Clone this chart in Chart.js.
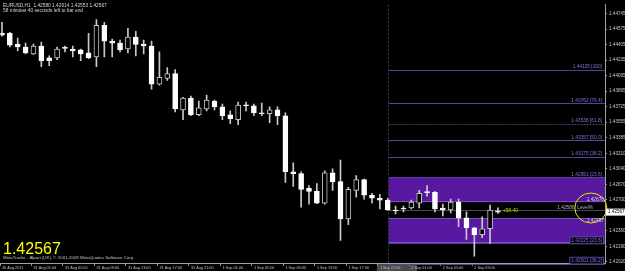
<!DOCTYPE html>
<html>
<head>
<meta charset="utf-8">
<script src="https://cdn.jsdelivr.net/npm/chart.js@4.4.0/dist/chart.umd.min.js"></script>
<style>
  html, body { margin: 0; padding: 0; background: #000; }
  #wrap { width: 625px; height: 271px; }
</style>
</head>
<body>
<div id="wrap"><canvas id="chart" width="625" height="271"></canvas></div>
<script>
// EURUSD H1 bars, oldest first (30 Aug 21:00 .. 2 Sep 12:00)
const openP  = [1.44529,1.44529,1.44410,1.44378,1.44303,1.44389,1.44259,1.44259,1.44367,1.44356,1.44346,1.44313,1.44270,1.44615,1.44443,1.44421,
                1.44356,1.44486,1.44410,1.44389,1.43969,1.44033,1.44087,1.43689,1.43818,1.43635,1.43699,1.43786,1.43721,1.43635,1.43581,1.43742,
                1.43732,1.43656,1.43646,1.43689,1.43624,1.43010,1.42989,1.42827,1.42795,1.42665,1.42999,1.42902,1.42493,1.42805,1.42924,1.42752,
                1.42719,1.42698,1.42590,1.42612,1.42612,1.42665,1.42784,1.42784,1.42612,1.42590,1.42676,1.42504,1.42396,1.42321,1.42385,1.42580];
const highP  = [1.44647,1.44539,1.44475,1.44421,1.44410,1.44432,1.44281,1.44378,1.44389,1.44389,1.44356,1.44529,1.44679,1.44647,1.44464,1.44453,
                1.44583,1.44550,1.44453,1.44443,1.44324,1.44152,1.44130,1.43825,1.43839,1.43786,1.43850,1.43796,1.43753,1.43678,1.43775,1.43775,
                1.43753,1.43764,1.43721,1.43721,1.43656,1.43107,1.43010,1.42859,1.42881,1.43021,1.43042,1.43139,1.42838,1.42967,1.42930,1.42773,
                1.42762,1.42719,1.42633,1.42633,1.42698,1.42805,1.42859,1.42795,1.42655,1.42709,1.42709,1.42569,1.42400,1.42515,1.42644,1.42614];
const lowP   = [1.44496,1.44378,1.44335,1.44303,1.44297,1.44162,1.44173,1.44238,1.44324,1.44270,1.44227,1.44250,1.44162,1.44270,1.44270,1.44324,
                1.44313,1.44281,1.44303,1.43915,1.43960,1.44012,1.43667,1.43581,1.43624,1.43624,1.43678,1.43689,1.43581,1.43538,1.43527,1.43678,
                1.43624,1.43624,1.43549,1.43527,1.42892,1.42849,1.42622,1.42655,1.42660,1.42655,1.42805,1.42256,1.42429,1.42730,1.42709,1.42665,
                1.42601,1.42585,1.42547,1.42569,1.42601,1.42612,1.42741,1.42569,1.42525,1.42558,1.42407,1.42267,1.42084,1.42288,1.42224,1.42553];
const closeP = [1.44507,1.44399,1.44378,1.44313,1.44389,1.44227,1.44227,1.44356,1.44362,1.44335,1.44303,1.44259,1.44615,1.44443,1.44421,1.44346,
                1.44486,1.44405,1.44389,1.43969,1.44044,1.44087,1.43699,1.43818,1.43635,1.43710,1.43796,1.43721,1.43624,1.43592,1.43742,1.43732,
                1.43656,1.43646,1.43689,1.43624,1.43010,1.42989,1.42816,1.42795,1.42665,1.42999,1.42902,1.42493,1.42816,1.42924,1.42752,1.42719,
                1.42698,1.42590,1.42579,1.42601,1.42676,1.42773,1.42780,1.42601,1.42590,1.42676,1.42504,1.42396,1.42321,1.42385,1.42590,1.42567];

// time axis labels (every 4 bars)
const timeTickBars = [0, 4, 8, 12, 16, 20, 24, 28, 32, 36, 40, 44, 48, 52, 56, 60];
const timeTickText = ['30 Aug 2011','31 Aug 01:00','31 Aug 05:00','31 Aug 09:00','31 Aug 13:00','31 Aug 17:00','31 Aug 21:00',
                      '1 Sep 01:00','1 Sep 05:00','1 Sep 09:00','1 Sep 13:00','1 Sep 17:00','1 Sep 21:00','2 Sep 01:00','2 Sep 05:00','2 Sep 09:00'];
const priceTicks = [1.44745,1.44575,1.44405,1.44235,1.44065,1.43895,1.43725,1.43555,1.43385,1.43210,1.43040,1.42870,1.42700,1.42360,1.42190,1.42020];

// fibonacci levels drawn from bar 49
const fibPrices = [1.44125, 1.43762, 1.43538, 1.43357, 1.43175, 1.42951, 1.42225, 1.42001];
const fibNames  = ['100', '76.4', '61.8', '50.0', '38.2', '23.6', '23.6', '38.2'];
const zoneTop   = [1.42951, 1.42500];
const zoneBot   = [1.42676, 1.42225];
const levelPrice = 1.42588;
const lastPrice = 1.42567;
const quoteLine = 'EURUSD,H1  1.42580 1.42614 1.42553 1.42567';

const FONT = "'Liberation Sans', Arial, sans-serif";
const zoneStart = 49;

const bodyLow = [], bodyHigh = [];
const wicks = [], bodies = [], fills = [], edges = [];
for (let i = 0; i < openP.length; i++) {
  wicks.push({ x: i, y: [lowP[i], highP[i]] });
  bodies.push({ x: i, y: [openP[i], closeP[i]] });
  const up = closeP[i] > openP[i];
  fills.push(up ? '#000000' : '#ffffff');
  edges.push(up ? '#c4c4c4' : '#ffffff');
}

const overlay = {
  id: 'overlay',
  beforeDraw(chart) {
    const { ctx, scales: { x } } = chart;
    ctx.save();
    ctx.fillStyle = '#000';
    ctx.fillRect(0, 0, chart.width, chart.height);
    // highlighted time label box
    const bx = x.getPixelForValue(48 - 0.25);
    ctx.fillStyle = '#4a4a4a';
    ctx.fillRect(bx - 1, 264, 40, 7);
    ctx.restore();
  },
  beforeDatasetsDraw(chart) {
    const { ctx, chartArea: a, scales: { x, y } } = chart;
    const x0 = Math.round(x.getPixelForValue(zoneStart)) + 0.5;
    ctx.save();
    // purple zones
    zoneTop.forEach((t, k) => {
      const y1 = y.getPixelForValue(t), y2 = y.getPixelForValue(zoneBot[k]);
      ctx.fillStyle = '#58189f';
      ctx.fillRect(x0, y1, a.right - x0, y2 - y1);
      ctx.strokeStyle = '#7a4cc8';
      ctx.lineWidth = 1;
      ctx.beginPath();
      ctx.moveTo(x0, Math.round(y1) + 0.5); ctx.lineTo(a.right, Math.round(y1) + 0.5);
      ctx.moveTo(x0, Math.round(y2) - 0.5); ctx.lineTo(a.right, Math.round(y2) - 0.5);
      ctx.stroke();
    });
    // fib lines
    fibPrices.forEach((p, k) => {
      const yy = Math.round(y.getPixelForValue(p)) + 0.5;
      ctx.strokeStyle = k === 2 ? '#4a3a70' : '#5a3ea0';
      ctx.setLineDash(k === 2 ? [2, 1] : []);
      ctx.beginPath(); ctx.moveTo(x0, yy); ctx.lineTo(a.right, yy); ctx.stroke();
    });
    ctx.setLineDash([]);
    // level line
    const ly = Math.round(y.getPixelForValue(levelPrice)) + 0.5;
    ctx.strokeStyle = '#4a4a4a';
    ctx.beginPath(); ctx.moveTo(x0, ly); ctx.lineTo(a.right, ly); ctx.stroke();
    // vertical dotted start line
    ctx.strokeStyle = '#3c3c3c';
    ctx.setLineDash([2, 2]);
    ctx.beginPath(); ctx.moveTo(x0, a.top); ctx.lineTo(x0, a.bottom); ctx.stroke();
    ctx.restore();
  },
  afterDraw(chart) {
    const { ctx, chartArea: a, scales: { x, y } } = chart;
    ctx.save();
    // fib labels
    ctx.font = '4.8px ' + FONT;
    ctx.textAlign = 'right';
    ctx.textBaseline = 'bottom';
    fibPrices.forEach((p, k) => {
      const yy = y.getPixelForValue(p);
      const txt = p.toFixed(5) + ' [' + fibNames[k] + ']';
      if (k >= 6) {
        const w = ctx.measureText(txt).width;
        ctx.fillStyle = '#000';
        ctx.fillRect(a.right - 3 - w - 1, yy - 6, w + 2, 6);
        ctx.strokeStyle = '#5a3ea0';
        ctx.strokeRect(a.right - 3 - w - 1.5, yy - 6.5, w + 3, 7);
      }
      ctx.fillStyle = '#8a70d8';
      ctx.fillText(txt, a.right - 3, yy - 0.5);
    });
    // level + zone edge labels
    ctx.fillStyle = '#b0b0c8';
    ctx.fillText('1.42588  Level%', a.right - 12, y.getPixelForValue(levelPrice) - 0.5);
    ctx.fillStyle = '#d0d0e0';
    ctx.fillText(zoneBot[0].toFixed(5), a.right - 1, y.getPixelForValue(zoneBot[0]) - 0.5);
    ctx.fillText('1.42457', a.right - 1, y.getPixelForValue(zoneTop[1]) + 4.5);
    // profit text
    ctx.fillStyle = '#c8c800';
    ctx.textAlign = 'left';
    ctx.textBaseline = 'middle';
    ctx.font = '5px ' + FONT;
    ctx.fillText('+58.40', x.getPixelForValue(63.6), y.getPixelForValue(levelPrice));
    // yellow ellipse
    ctx.strokeStyle = '#e6e600';
    ctx.lineWidth = 1;
    ctx.beginPath();
    ctx.ellipse(x.getPixelForValue(74.8), y.getPixelForValue(1.42612), 16, 15, 0, 0, Math.PI * 2);
    ctx.stroke();
    // current price box on the axis
    const cy = y.getPixelForValue(lastPrice);
    ctx.fillStyle = '#ffffff';
    ctx.fillRect(a.right + 1, cy - 3.5, 20, 7);
    ctx.fillStyle = '#000';
    ctx.font = '4.6px ' + FONT;
    ctx.fillText(lastPrice.toFixed(5), a.right + 3, cy);
    // header texts
    ctx.fillStyle = '#d8d8d8';
    ctx.textBaseline = 'alphabetic';
    ctx.font = '4.8px ' + FONT;
    ctx.fillText(quoteLine, 3, 7);
    ctx.fillText('58 minutes 40 seconds left to bar end', 3, 12);
    // big price + copyright
    ctx.fillStyle = '#ffff00';
    ctx.font = '16px ' + FONT;
    ctx.fillText(lastPrice.toFixed(5), 3, 254);
    ctx.fillStyle = '#c0c0c0';
    ctx.font = '4.4px ' + FONT;
    ctx.fillText('MetaTrader - Alpari (UK), \u00a9 2001-2009 MetaQuotes Software Corp.', 3, 259);
    ctx.restore();
  }
};

new Chart(document.getElementById('chart'), {
  type: 'bar',
  data: {
    datasets: [
      { data: bodies, grouped: false, order: 1, barThickness: 5, minBarLength: 1,
        backgroundColor: fills, borderColor: edges, borderWidth: 1, borderSkipped: false },
      { data: wicks, grouped: false, order: 2, barThickness: 1,
        backgroundColor: '#c8c8c8', borderWidth: 0 }
    ]
  },
  options: {
    responsive: false,
    devicePixelRatio: 1,
    animation: false,
    layout: { padding: 0 },
    plugins: { legend: { display: false }, tooltip: { enabled: false } },
    scales: {
      x: {
        type: 'linear', min: -0.2, max: 76.6, offset: false,
        grid: { offset: false, drawOnChartArea: false, drawTicks: true, tickLength: 3, color: '#909090' },
        border: { color: '#a0a0a0' },
        afterBuildTicks: s => { s.ticks = timeTickBars.map(v => ({ value: v - 0.25 })); },
        afterFit: s => { s.height = 8; },
        ticks: {
          autoSkip: false, maxRotation: 0, align: 'start', labelOffset: 2, padding: 0,
          color: '#c0c0c0', font: { family: FONT, size: 3.8 },
          callback: (v, i) => timeTickText[i]
        }
      },
      y: {
        position: 'right', min: 1.42009, max: 1.44841,
        grid: { drawOnChartArea: false, drawTicks: true, tickLength: 2, color: '#909090' },
        border: { color: '#a0a0a0' },
        afterBuildTicks: s => { s.ticks = priceTicks.map(v => ({ value: v })); },
        afterFit: s => { s.width = 20; },
        ticks: {
          autoSkip: false, padding: 2, color: '#c8c8c8', font: { family: FONT, size: 4.6 },
          callback: v => v.toFixed(5)
        }
      }
    }
  },
  plugins: [overlay]
});
</script>
</body>
</html>
